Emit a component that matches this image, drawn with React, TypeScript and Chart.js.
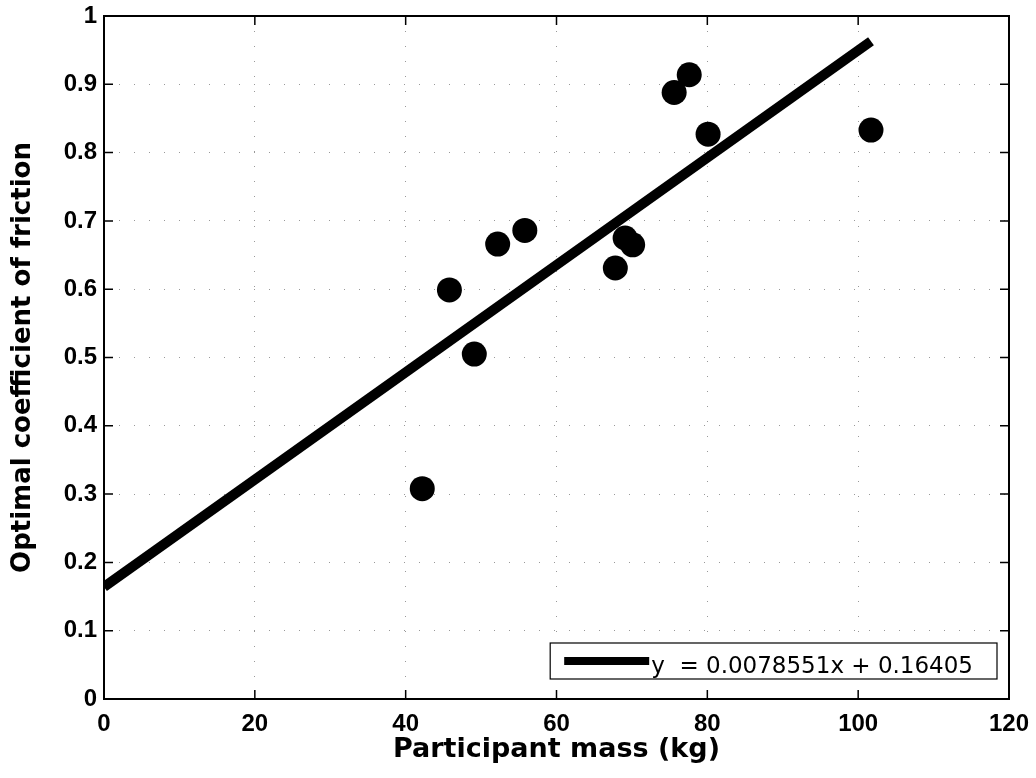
import React, { useEffect, useRef } from "react";
import { Chart, registerables } from "chart.js";

Chart.register(...registerables);

// Participant mass (kg) and optimal coefficient of friction
const massKg = [42.2, 45.8, 49.1, 52.2, 55.8, 67.8, 69.1, 70.1, 75.6, 77.6, 80.1, 101.7];
const frictionCoef = [0.308, 0.599, 0.505, 0.666, 0.686, 0.631, 0.675, 0.665, 0.888, 0.914, 0.827, 0.833];

// Linear fit end points (y = 0.0078551x + 0.16405)
const fitX = [0, 101.7];
const fitY = [0.164, 0.963];
const fitLabel = "y  = 0.0078551x + 0.16405";

const xTicks = [0, 20, 40, 60, 80, 100, 120];
const yTickLabels = ["0", "0.1", "0.2", "0.3", "0.4", "0.5", "0.6", "0.7", "0.8", "0.9", "1"];

const xTitle = "Participant mass (kg)";
const yTitle = "Optimal coefficient of friction";

const TICK_FONT = "Arial";
const TITLE_FONT = "'DejaVu Sans', sans-serif";

const framePlugin = {
  id: "frameAndLegend",
  afterDraw(chart: any) {
    const { ctx, chartArea: ca } = chart;
    const xs = chart.scales.x;
    const ys = chart.scales.y;
    ctx.save();
    ctx.strokeStyle = "#000";
    ctx.lineWidth = 2;
    ctx.strokeRect(ca.left, ca.top, ca.right - ca.left, ca.bottom - ca.top);
    ctx.lineWidth = 1.5;
    const tl = 9;
    ctx.beginPath();
    xs.ticks.forEach((t: any) => {
      const px = xs.getPixelForValue(t.value);
      ctx.moveTo(px, ca.bottom);
      ctx.lineTo(px, ca.bottom - tl);
      ctx.moveTo(px, ca.top);
      ctx.lineTo(px, ca.top + tl);
    });
    ys.ticks.forEach((t: any) => {
      const py = ys.getPixelForValue(t.value);
      ctx.moveTo(ca.left, py);
      ctx.lineTo(ca.left + tl, py);
      ctx.moveTo(ca.right, py);
      ctx.lineTo(ca.right - tl, py);
    });
    ctx.stroke();

    ctx.font = `23px ${TITLE_FONT}`;
    const tw = ctx.measureText(fitLabel).width;
    const sampleLen = 85;
    const boxW = 14 + sampleLen + 2 + tw + 24;
    const boxH = 36;
    const boxRight = ca.right - 12;
    const boxBottom = ca.bottom - 20;
    const bx = boxRight - boxW;
    const by = boxBottom - boxH;
    ctx.fillStyle = "#fff";
    ctx.fillRect(bx, by, boxW, boxH);
    ctx.lineWidth = 1.2;
    ctx.strokeStyle = "#000";
    ctx.strokeRect(bx, by, boxW, boxH);
    ctx.beginPath();
    ctx.lineWidth = 8;
    ctx.moveTo(bx + 14, by + 18);
    ctx.lineTo(bx + 14 + sampleLen, by + 18);
    ctx.stroke();
    ctx.fillStyle = "#000";
    ctx.textBaseline = "alphabetic";
    ctx.textAlign = "left";
    ctx.fillText(fitLabel, bx + 14 + sampleLen + 2, by + 30);
    ctx.restore();
  },
};

export default function App() {
  const ref = useRef<HTMLCanvasElement | null>(null);

  useEffect(() => {
    if (!ref.current) return;
    const points = massKg.map((x, i) => ({ x, y: frictionCoef[i] }));
    const fit = fitX.map((x, i) => ({ x, y: fitY[i] }));
    const chart = new Chart(ref.current, {
      type: "scatter",
      data: {
        datasets: [
          {
            type: "line",
            label: fitLabel,
            data: fit,
            borderColor: "#000",
            borderWidth: 10,
            borderCapStyle: "butt",
            pointRadius: 0,
            showLine: true,
            fill: false,
            clip: 0,
            order: 2,
          } as any,
          {
            label: "Participants",
            data: points,
            backgroundColor: "#000",
            borderColor: "#000",
            borderWidth: 0,
            pointRadius: 12.5,
            pointHoverRadius: 12.5,
            order: 1,
          },
        ],
      },
      options: {
        animation: false,
        responsive: false,
        events: [],
        layout: { padding: { top: 16, right: 27, left: 0, bottom: 0 } },
        plugins: { legend: { display: false }, tooltip: { enabled: false } },
        scales: {
          x: {
            type: "linear",
            min: 0,
            max: 120,
            afterBuildTicks: (s: any) => {
              s.ticks = xTicks.map((v) => ({ value: v }));
            },
            ticks: {
              color: "#000",
              font: { family: TICK_FONT, size: 24, weight: "bold" },
              padding: 11,
              maxRotation: 0,
              autoSkip: false,
              callback: (v: any) => String(v),
            },
            grid: {
              color: "rgba(0,0,0,0.4)",
              lineWidth: 1,
              drawTicks: false,
            },
            border: { display: false, dash: [1, 14] } as any,
            title: {
              display: true,
              text: xTitle,
              color: "#000",
              font: { family: TITLE_FONT, size: 27, weight: "bold" },
              padding: { top: 0, bottom: 12 },
            },
            afterFit: (s: any) => {
              s.height = 79;
              s.paddingLeft = 0;
              s.paddingRight = 0;
            },
          },
          y: {
            type: "linear",
            min: 0,
            max: 1,
            afterBuildTicks: (s: any) => {
              s.ticks = yTickLabels.map((_, i) => ({ value: i / 10 }));
            },
            ticks: {
              color: "#000",
              font: { family: TICK_FONT, size: 24, weight: "bold" },
              padding: 7,
              autoSkip: false,
              callback: (_v: any, i: number) => yTickLabels[i],
            },
            grid: {
              color: "rgba(0,0,0,0.4)",
              lineWidth: 1,
              drawTicks: false,
            },
            border: { display: false, dash: [1, 14] } as any,
            title: {
              display: true,
              text: yTitle,
              color: "#000",
              font: { family: TITLE_FONT, size: 26, weight: "bold" },
              padding: { top: 8, bottom: 0 },
            },
            afterFit: (s: any) => {
              s.width = 104;
              s.paddingTop = 0;
              s.paddingBottom = 0;
            },
          },
        },
      },
      plugins: [framePlugin],
    });
    return () => chart.destroy();
  }, []);

  return (
    <div style={{ position: "fixed", left: 0, top: 0, width: 1036, height: 778, background: "#fff" }}>
      <canvas ref={ref} width={1036} height={778} style={{ display: "block" }} />
    </div>
  );
}
